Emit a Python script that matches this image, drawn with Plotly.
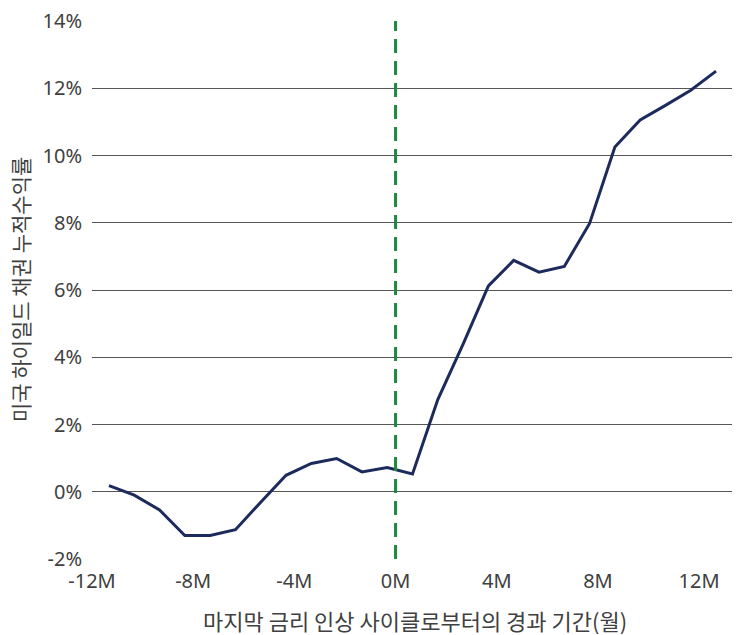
import plotly.graph_objects as go

# Months relative to last rate hike (data points)
months = [-11.33, -10.33, -9.33, -8.33, -7.33, -6.33, -5.33, -4.33, -3.33, -2.33,
          -1.33, -0.33, 0.67, 1.67, 2.67, 3.67, 4.67, 5.67, 6.67, 7.67,
          8.67, 9.67, 10.67, 11.67, 12.67]
# Cumulative return of US high yield bonds (%)
cum_return = [0.18, -0.10, -0.54, -1.30, -1.30, -1.13, -0.31, 0.49, 0.84, 0.99,
              0.59, 0.72, 0.53, 2.74, 4.39, 6.12, 6.88, 6.53, 6.70, 7.98,
              10.25, 11.06, 11.49, 11.94, 12.51]

x_tickvals = [-12, -8, -4, 0, 4, 8, 12]
x_ticktext = ["-12M", "-8M", "-4M", "0M", "4M", "8M", "12M"]
y_tickvals = [-2, 0, 2, 4, 6, 8, 10, 12, 14]
y_ticktext = ["-2%", "0%", "2%", "4%", "6%", "8%", "10%", "12%", "14%"]

x_title = "마지막 금리 인상 사이클로부터의 경과 기간(월)"
y_title = "미국 하이일드 채권 누적수익률"

FONT = "Noto Sans, Noto Sans CJK KR, sans-serif"
KFONT = "Noto Sans CJK KR, Noto Sans, sans-serif"
TXT = "#404040"

fig = go.Figure()
fig.add_trace(go.Scatter(
    x=months, y=cum_return, mode="lines",
    line=dict(color="#1d2b5c", width=3),
    hoverinfo="skip", showlegend=False,
))

fig.add_shape(type="line", xref="x", yref="paper", x0=0, x1=0, y0=0, y1=1,
              line=dict(color="#1b8a3c", width=3, dash="14px,8px"))

fig.update_layout(
    width=739, height=635,
    margin=dict(l=92, r=7, t=18, b=76),
    plot_bgcolor="white", paper_bgcolor="white",
    font=dict(family=FONT, size=20, color=TXT),
    xaxis=dict(range=[-12, 13.3], tickvals=x_tickvals, ticktext=x_ticktext,
               showgrid=False, zeroline=False, showline=False,
               ticks="", ticklabelstandoff=8,
               tickfont=dict(family=FONT, size=20, color=TXT)),
    yaxis=dict(range=[-2, 14], tickvals=y_tickvals, ticktext=y_ticktext,
               showgrid=True, gridcolor="#555555", gridwidth=1,
               zeroline=False, showline=False, ticks="", ticklabelstandoff=9,
               tickfont=dict(family=FONT, size=20, color=TXT)),
    annotations=[
        dict(text=x_title, xref="paper", yref="paper", x=0.5, y=0,
             xshift=3, yshift=-61, xanchor="center", yanchor="middle", showarrow=False,
             font=dict(family=KFONT, size=22, color=TXT)),
        dict(text=y_title, xref="paper", yref="paper", x=0, y=0.5,
             xshift=-72, xanchor="center", yanchor="middle", textangle=-90,
             showarrow=False, font=dict(family=KFONT, size=21, color=TXT)),
    ],
)

fig.write_html("out.html")
